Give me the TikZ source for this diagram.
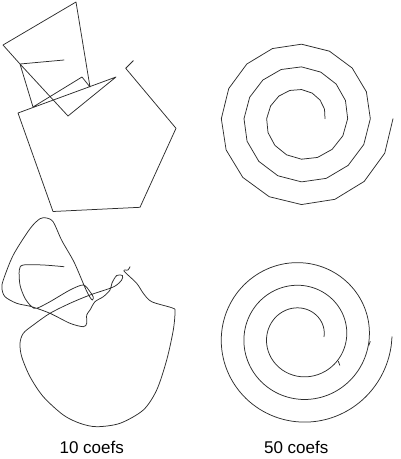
\documentclass[tikz,border=0pt]{standalone}
\usepackage{fontspec}
\setmainfont{Liberation Sans}
\definecolor{ink}{RGB}{45,45,45}
\begin{document}
\begin{tikzpicture}[x=1pt,y=-1pt,
  curve/.style={line width=0.75pt, draw=ink, line join=round, line cap=round},
  caption/.style={anchor=base, inner sep=0pt, font=\fontsize{17}{20}\selectfont, text=black}]
\useasboundingbox (0,0) rectangle (400,459);
% top-left: 10 coefs, coarse
\draw[curve] (64,60) -- (20,64) -- (33,107) -- (82,77) -- (90,87) -- (76,2) -- (3,45) -- (20,64)
  -- (68,116) -- (116,77) -- (18,113) -- (53,211.5) -- (140,207.3) -- (176,128.3) -- (125.7,68.3) -- (133.3,60.7);
% top-right: 10 coefs spiral
\draw[curve] plot[domain=0:1080, samples=49]
  ({301.5+(23.5+\x/360*22.67)*cos(\x)},{118.7-(23.5+\x/360*22.67)*sin(\x)});
% bottom-left: 50 coefs, smooth
\draw[curve] plot[smooth, tension=0.5] coordinates {
  (64,266.7) (43.3,265) (23.3,265) (19.3,270) (20,285) (25,298.3) (31.7,306.7) (36.7,308.3)
  (50,301.7) (70,290) (83.3,285) (90,291.7) (93.3,297) (92.3,300) (89.5,296.5) (85,287.5)
  (74,262) (61.7,240.3) (53.3,222) (46.7,218) (40,218.7) (30,228.7) (13.3,255) (3.3,280)
  (1.9,288.3) (5,296.7) (16.7,303.3) (31.7,306.7) (50,313.3) (70,323.3) (83.3,326.7)
  (86.7,323.3) (86.7,315) (90,310) (95,301.7) (103.3,296.7) (110,290) (112,283) (116.7,275.5)
  (122.5,275.5) (121.7,280) (116.7,285) (110,288.3) (90,295) (70,303.3) (50,313.3) (33.3,325)
  (23.3,333.3) (20,343.3) (21.7,356.7) (30,376.7) (43.3,396.7) (63.3,415) (80,423.3)
  (96.7,426.7) (120,423.3) (143.3,410) (156.7,390) (166.7,360) (173.3,330) (175,311.7)
  (172.5,308) (151.7,301.7) (143.3,293.3) (136.7,283.3) (124,271) (128,270) (130,266.7)};
% bottom-right: 50 coefs spiral
\draw[curve] plot[smooth, domain=0:1080, samples=181]
  ({301+(23+\x/360*22.67)*cos(\x)},{336.7-(23+\x/360*22.67)*sin(\x)});
\draw[curve] (338.3,361.2) -- (339.8,365.3);
\draw[curve] (370.2,341.5) -- (368.8,345.5);
% captions
\node[caption] (c10) at (91.7,453.3) {10 coefs};
\node[caption] (c50) at (296.2,453.6) {50 coefs};
\end{tikzpicture}
\end{document}
